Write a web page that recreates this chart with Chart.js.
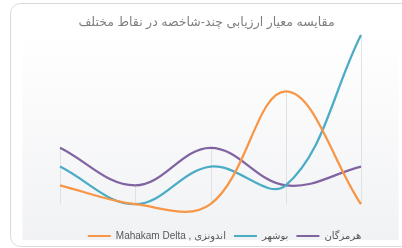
<!DOCTYPE html>
<html>
<head>
<meta charset="utf-8">
<script src="https://cdn.jsdelivr.net/npm/chart.js@4"></script>
<style>
  html, body { margin: 0; padding: 0; background: #fff; }
  #wrap { width: 402px; height: 248px; position: relative; }
</style>
</head>
<body>
<div id="wrap"><canvas id="chart" width="402" height="248"></canvas></div>
<script>
// data
var categories = ['1', '2', '3', '4', '5'];
var seriesNames = ['Mahakam Delta , اندونزی', 'بوشهر', 'هرمزگان'];
var indonesia = [2, 1, 1, 7, 1];
var bushehr = [3, 1, 3, 2, 10];
var hormozgan = [4, 2, 4, 2, 3];
var colors = ['#f79646', '#4bacc6', '#8064a2'];
var titleText = 'مقایسه معیار ارزیابی چند-شاخصه در نقاط مختلف';
var axisBase = 1; // drop lines end here

// frame + plot background
var frame = {
  id: 'frame',
  afterLayout: function(chart) {
    // small nudges so legend/title sit like the original
    chart.legend.left += 14;
    chart.legend.right += 14;
    chart.titleBlock.left -= 4;
    chart.titleBlock.right -= 4;
  },
  beforeDraw: function(chart) {
    var c = chart.ctx, a = chart.chartArea;
    c.save();
    var g = c.createLinearGradient(0, 31, 0, 240);
    g.addColorStop(0, '#ffffff');
    g.addColorStop(1, '#f1f2f4');
    c.fillStyle = g;
    c.fillRect(a.left, 31, a.right - a.left, 209);
    c.strokeStyle = '#d9d9d9';
    c.lineWidth = 1;
    c.beginPath();
    c.roundRect(10.5, 3.5, 420, 243, 10);
    c.stroke();
    c.restore();
  },
  // drop lines from highest point to the axis
  beforeDatasetsDraw: function(chart) {
    var c = chart.ctx, xs = chart.scales.x, ys = chart.scales.y;
    c.save();
    c.strokeStyle = '#d9d9d9';
    c.lineWidth = 0.75;
    categories.forEach(function(cat, i) {
      var top = Math.max(indonesia[i], bushehr[i], hormozgan[i]);
      var x = Math.round(xs.getPixelForValue(i)) + 0.5;
      c.beginPath();
      c.moveTo(x, ys.getPixelForValue(top));
      c.lineTo(x, ys.getPixelForValue(axisBase));
      c.stroke();
    });
    c.restore();
  }
};

var ctx = document.getElementById('chart').getContext('2d');
var myChart = new Chart(ctx, {
  type: 'line',
  data: {
    labels: categories,
    datasets: [indonesia, bushehr, hormozgan].map(function(d, i) {
      return {
        label: seriesNames[i],
        data: d,
        borderColor: colors[i],
        backgroundColor: colors[i],
        borderWidth: 2.25,
        pointRadius: 0,
        tension: 0.38,
        clip: false
      };
    })
  },
  options: {
    responsive: false,
    animation: false,
    layout: { padding: { left: 22.4, right: 3.4, top: 0, bottom: -3 } },
    elements: { line: { capBezierPoints: false } },
    scales: {
      x: { offset: true, display: false },
      y: { min: 0.0, max: 10, display: false }
    },
    plugins: {
      title: {
        display: true,
        text: titleText,
        color: '#808080',
        font: { family: 'Liberation Sans, DejaVu Sans, sans-serif', size: 12.5, weight: 'normal' },
        padding: { top: 15, bottom: 5 }
      },
      legend: {
        position: 'bottom',
        labels: {
          color: '#595959',
          font: { family: 'Liberation Sans, DejaVu Sans, sans-serif', size: 10 },
          boxWidth: 23,
          boxHeight: 2,
          padding: 8,
          generateLabels: function(chart) {
            return Chart.defaults.plugins.legend.labels.generateLabels(chart).map(function(l) {
              l.lineWidth = 0;
              return l;
            });
          }
        }
      },
      tooltip: { enabled: false }
    }
  },
  plugins: [frame]
});
</script>
</body>
</html>
